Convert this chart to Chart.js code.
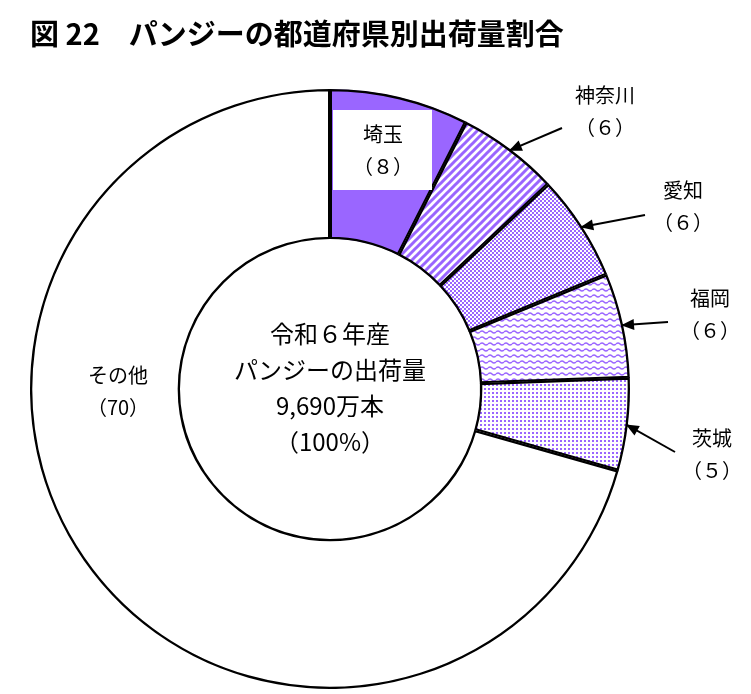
<!DOCTYPE html>
<html><head><meta charset="utf-8">
<script src="https://cdn.jsdelivr.net/npm/chart.js@4"></script>
<style>body{margin:0;background:#fff}#c{display:block}</style>
</head><body>
<div style="width:751px;height:694px"><canvas id="c"></canvas></div>
<script>
var categories = ['埼玉', '神奈川', '愛知', '福岡', '茨城', 'その他'];
var shares = [7.5, 5.5, 5.75, 5.65, 5.0, 70.6];
var shareLabels = ['（８）', '（６）', '（６）', '（６）', '（５）', '（70）'];
var centerLines = ['令和６年産', 'パンジーの出荷量', '9,690万本', '（100%）'];
var FONT = '"Noto Sans CJK JP", sans-serif';
var PURPLE = '#9a66ff';

function tile(w, h, draw) {
  var t = document.createElement('canvas'); t.width = w; t.height = h;
  var g = t.getContext('2d'); g.fillStyle = '#fff'; g.fillRect(0, 0, w, h);
  g.fillStyle = PURPLE; g.strokeStyle = PURPLE; draw(g);
  return document.createElement('canvas').getContext('2d').createPattern(t, 'repeat');
}
var fills = [
  PURPLE,
  tile(8, 8, function (g) { g.lineWidth = 3; g.beginPath(); g.moveTo(-2, 10); g.lineTo(10, -2); g.moveTo(-6, 6); g.lineTo(6, -6); g.moveTo(2, 14); g.lineTo(14, 2); g.stroke(); }),
  tile(4, 4, function (g) { g.fillRect(0, 0, 2, 2); g.fillRect(2, 2, 2, 2); }),
  tile(8, 6, function (g) { g.lineWidth = 1.5; g.beginPath(); g.moveTo(0, 2); g.quadraticCurveTo(2, 0, 4, 2); g.quadraticCurveTo(6, 4, 8, 2); g.stroke(); }),
  tile(4, 4, function (g) { g.fillRect(0, 0, 2, 2); }),
  '#ffffff'
];

var labelPlugin = {
  id: 'labels',
  afterDraw: function (chart) {
    var ctx = chart.ctx, arcs = chart.getDatasetMeta(0).data;
    ctx.save();
    ctx.fillStyle = '#000'; ctx.textBaseline = 'middle';
    ctx.font = 'bold 29px ' + FONT; ctx.textAlign = 'left';
    ctx.fillText('図 22　パンジーの都道府県別出荷量割合', 30, 34);
    ctx.textAlign = 'center';
    ctx.font = '24px ' + FONT;
    var cx = arcs[0].x, cy = arcs[0].y;
    centerLines.forEach(function (s, i) { ctx.fillText(s, cx, cy - 55 + i * 36); });
    // 埼玉 box
    ctx.fillStyle = '#fff'; ctx.fillRect(333, 110, 99, 80);
    ctx.fillStyle = '#000'; ctx.font = '20px ' + FONT;
    ctx.fillText(categories[0], 383, 134); ctx.fillText(shareLabels[0], 383, 166);
    var pos = [null, [605, 95, 562, 128], [683, 190, 645, 215], [710, 298, 668, 322], [712, 438, 675, 452]];
    for (var i = 1; i <= 4; i++) {
      var p = pos[i], a = arcs[i];
      ctx.fillText(categories[i], p[0], p[1]); ctx.fillText(shareLabels[i], p[0], p[1] + 32);
      var mid = (a.startAngle + a.endAngle) / 2, r = a.outerRadius - 2;
      var hx = cx + Math.cos(mid) * r, hy = cy + Math.sin(mid) * r;
      var ang = Math.atan2(hy - p[3], hx - p[2]);
      ctx.strokeStyle = '#000'; ctx.lineWidth = 2;
      ctx.beginPath(); ctx.moveTo(p[2], p[3]); ctx.lineTo(hx, hy); ctx.stroke();
      ctx.beginPath(); ctx.moveTo(hx, hy);
      ctx.lineTo(hx - 14 * Math.cos(ang - 0.4), hy - 14 * Math.sin(ang - 0.4));
      ctx.lineTo(hx - 14 * Math.cos(ang + 0.4), hy - 14 * Math.sin(ang + 0.4));
      ctx.closePath(); ctx.fill();
    }
    ctx.fillText(categories[5], 118, 375); ctx.fillText(shareLabels[5], 118, 407);
    ctx.restore();
  }
};

new Chart(document.getElementById('c'), {
  type: 'doughnut',
  data: { labels: categories, datasets: [{ data: shares, backgroundColor: fills, borderColor: '#000', borderWidth: 2, borderAlign: 'inner' }] },
  options: {
    responsive: true, maintainAspectRatio: false, animation: false, cutout: '50%',
    layout: { padding: { top: 88, bottom: 4, left: 30, right: 121 } },
    plugins: { legend: { display: false }, tooltip: { enabled: false } }
  },
  plugins: [labelPlugin]
});
</script>
</body></html>
